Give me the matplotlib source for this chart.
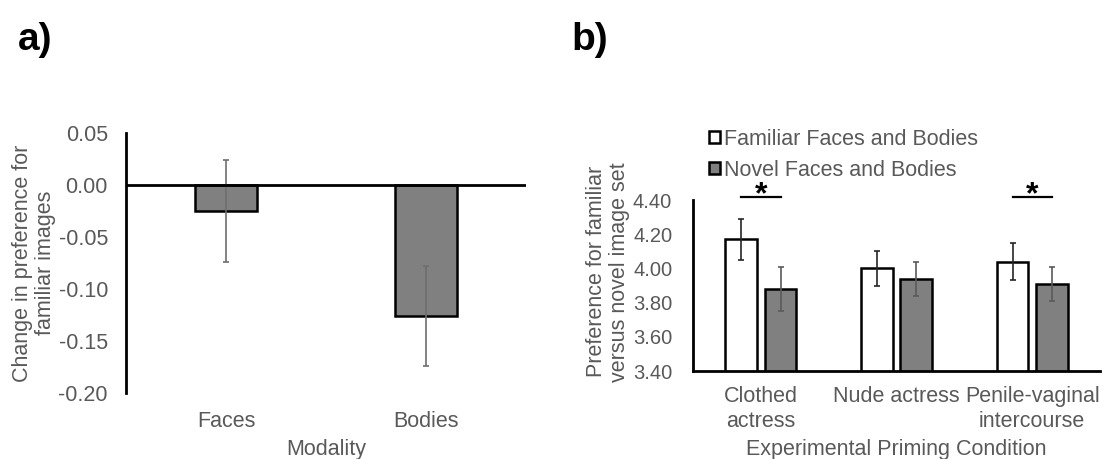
import numpy as np
import matplotlib
matplotlib.use("Agg")
import matplotlib.pyplot as plt
from matplotlib.patches import Patch

plt.rcParams['font.family'] = ['Liberation Sans', 'DejaVu Sans']
plt.rcParams['axes.unicode_minus'] = False

# panel a: change in preference by modality
modality = ['Faces', 'Bodies']
change = [-0.025, -0.126]
change_err = [0.049, 0.048]

# panel b: preference by priming condition
conditions = ['Clothed\nactress', 'Nude actress', 'Penile-vaginal\nintercourse']
familiar = [4.17, 4.00, 4.04]
familiar_err = [0.12, 0.10, 0.11]
novel = [3.88, 3.94, 3.91]
novel_err = [0.13, 0.10, 0.10]
significant = [True, False, True]

text_grey = '#595959'
bar_grey = '#808080'
fs = 15.5


def fmt2(v):
    v = round(v, 2)
    return '%.2f' % (0.0 if v == 0 else v)


fig = plt.figure(figsize=(11.06, 4.59), dpi=100)

# ---- a) ----
ax1 = fig.add_axes([0.1139, 0.1438, 0.3617, 0.5664])
x1 = np.arange(len(modality))
ax1.bar(x1, change, width=0.31, color=bar_grey, edgecolor='black', linewidth=1.8, zorder=2)
ax1.errorbar(x1, change, yerr=change_err, fmt='none', ecolor='#6e6e6e',
             elinewidth=1.2, capsize=2.5, capthick=1.2, zorder=3)
ax1.axhline(0, color='black', linewidth=2, zorder=4)
ax1.set_xlim(-0.5, 1.5)
ax1.set_ylim(-0.20, 0.05)
yt1 = np.arange(-0.20, 0.051, 0.05)
ax1.set_yticks(yt1)
ax1.set_yticklabels([fmt2(v) for v in yt1])
ax1.set_xticks(x1)
ax1.set_xticklabels(modality)
for s in ['top', 'right', 'bottom']:
    ax1.spines[s].set_visible(False)
ax1.spines['left'].set_linewidth(2)
ax1.tick_params(axis='both', length=0, labelsize=fs, labelcolor=text_grey)
ax1.tick_params(axis='x', pad=13)
ax1.tick_params(axis='y', pad=13)
ax1.set_xlabel('Modality', fontsize=fs, color=text_grey, labelpad=5)
ax1.set_ylabel('Change in preference for\nfamiliar images', fontsize=fs,
               color=text_grey, linespacing=1.1)
ax1.yaxis.set_label_coords(-0.175, 0.5)

# ---- b) ----
ax2 = fig.add_axes([0.6266, 0.1917, 0.3680, 0.3725])
x2 = np.arange(len(conditions))
off = 0.145
w = 0.235
ax2.bar(x2 - off, familiar, width=w, color='white', edgecolor='black', linewidth=1.8,
        zorder=2, label='Familiar Faces and Bodies')
ax2.bar(x2 + off, novel, width=w, color=bar_grey, edgecolor='black', linewidth=1.8,
        zorder=2, label='Novel Faces and Bodies')
ax2.errorbar(x2 - off, familiar, yerr=familiar_err, fmt='none', ecolor='#262626',
             elinewidth=1.2, capsize=2.5, capthick=1.2, zorder=3)
ax2.errorbar(x2 + off, novel, yerr=novel_err, fmt='none', ecolor='#5a5a5a',
             elinewidth=1.2, capsize=2.5, capthick=1.2, zorder=3)
ax2.set_xlim(-0.5, 2.5)
ax2.set_ylim(3.40, 4.40)
yt2 = np.arange(3.40, 4.401, 0.20)
ax2.set_yticks(yt2)
ax2.set_yticklabels([fmt2(v) for v in yt2])
ax2.set_xticks(x2)
ax2.set_xticklabels(conditions, linespacing=1.25)
for s in ['top', 'right']:
    ax2.spines[s].set_visible(False)
ax2.spines['left'].set_linewidth(2)
ax2.spines['bottom'].set_linewidth(2)
ax2.tick_params(axis='both', length=0, labelcolor=text_grey)
ax2.tick_params(axis='x', pad=11, labelsize=fs)
ax2.tick_params(axis='y', pad=15, labelsize=14.5)
ax2.set_xlabel('Experimental Priming Condition', fontsize=fs, color=text_grey, labelpad=5)
ax2.set_ylabel('Preference for familiar\nversus novel image set', fontsize=fs,
               color=text_grey, linespacing=1.1)
ax2.yaxis.set_label_coords(-0.155, 0.58)

# significance markers
for i, sig in enumerate(significant):
    if sig:
        ax2.plot([i - off, i + off], [4.42, 4.42], color='black', linewidth=1.6,
                 clip_on=False, zorder=5)
        ax2.text(i, 4.38, '*', ha='center', va='baseline', fontsize=23,
                 fontweight='bold', color='black', clip_on=False)

handles = [Patch(facecolor='white', edgecolor='black', linewidth=1.8),
           Patch(facecolor=bar_grey, edgecolor='black', linewidth=1.8)]
fig.legend(handles, ['Familiar Faces and Bodies', 'Novel Faces and Bodies'],
           loc='upper left', bbox_to_anchor=(0.641, 0.719), frameon=False,
           fontsize=fs, labelcolor=text_grey, handlelength=0.5, handleheight=0.5,
           handletextpad=0.2, labelspacing=0.45, borderpad=0, borderaxespad=0)

# panel letters
fig.text(0.016, 1 - 50 / 459, 'a)', fontsize=28, fontweight='bold', color='black',
         family=['Liberation Sans Narrow', 'Liberation Sans'])
fig.text(0.517, 1 - 50 / 459, 'b)', fontsize=28, fontweight='bold', color='black',
         family=['Liberation Sans Narrow', 'Liberation Sans'])

fig.savefig('out.png', dpi=100)
